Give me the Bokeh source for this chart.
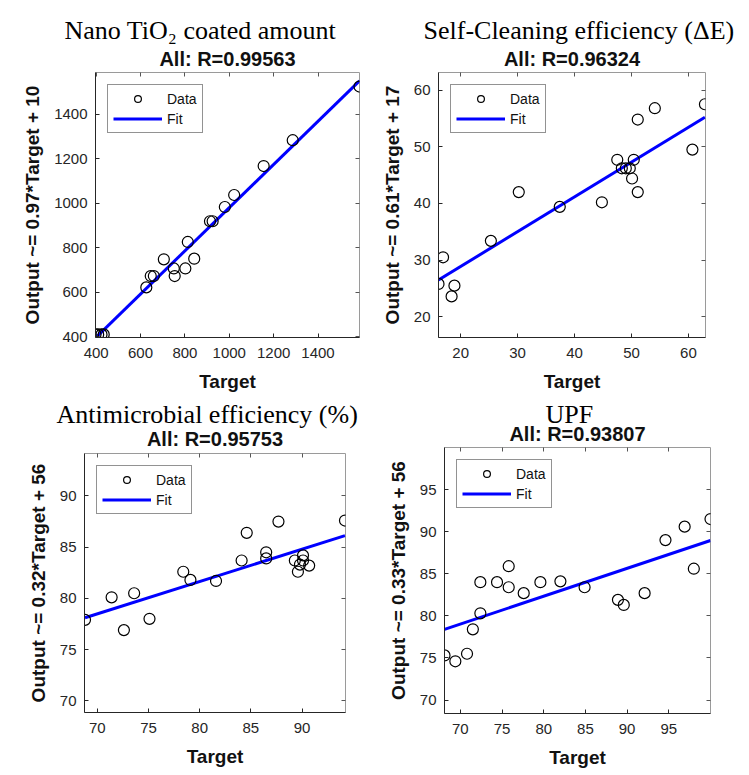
from bokeh.plotting import figure
from bokeh.models import Range1d, FixedTicker, LinearAxis, Title, Legend, LegendItem
from bokeh.layouts import column, row
from bokeh.embed import file_html
from bokeh.resources import INLINE

SANS = "Liberation Sans"
SERIF = "Liberation Serif"
DARK = "#262626"

# ---------------- data ----------------
tio2_title = "Nano TiO\u2082 coated amount"
tio2_r = "All: R=0.99563"
tio2_ylabel = "Output ~= 0.97*Target + 10"
tio2_target = [397, 409, 424, 434, 626, 646, 660, 705, 750, 754, 802, 813, 842, 913, 925, 980, 1022, 1155, 1286, 1587]
tio2_output = [411, 411, 411, 411, 622, 673, 673, 748, 707, 673, 707, 826, 751, 919, 919, 983, 1037, 1167, 1283, 1524]
tio2_slope, tio2_intercept = 0.97, 10
tio2_xlim = (397, 1587)
tio2_ylim = (397, 1587)
tio2_ticks = [400, 600, 800, 1000, 1200, 1400]

self_title = "Self-Cleaning efficiency (\u0394E)"
self_r = "All: R=0.96324"
self_ylabel = "Output ~= 0.61*Target + 17"
self_target = [16.1, 16.9, 18.4, 18.9, 25.3, 30.2, 37.4, 44.8, 47.5, 48.3, 49.0, 49.7, 50.1, 50.4, 51.1, 51.1, 54.1, 60.7, 62.9]
self_output = [25.8, 30.5, 23.6, 25.5, 33.4, 42.0, 39.4, 40.2, 47.7, 46.2, 46.2, 46.2, 44.4, 47.7, 54.8, 42.0, 56.8, 49.5, 57.5]
self_slope, self_intercept = 0.614, 16.6
self_xlim = (16.1, 63.0)
self_ylim = (16.35, 63.1)
self_ticks = [20, 30, 40, 50, 60]

anti_title = "Antimicrobial efficiency (%)"
anti_r = "All: R=0.95753"
anti_ylabel = "Output ~= 0.32*Target + 56"
anti_target = [68.8, 71.4, 72.6, 73.6, 75.1, 78.4, 79.1, 81.6, 84.1, 84.6, 86.5, 86.5, 87.7, 89.3, 89.6, 89.8, 90.1, 90.1, 90.7, 94.2]
anti_output = [77.9, 80.1, 76.9, 80.5, 78.0, 82.6, 81.8, 81.7, 83.7, 86.4, 84.5, 83.9, 87.5, 83.7, 82.6, 83.3, 84.2, 83.7, 83.2, 87.6]
anti_slope, anti_intercept = 0.316, 56.36
anti_xlim = (68.75, 94.25)
anti_ylim = (68.85, 94.15)
anti_ticks = [70, 75, 80, 85, 90]

upf_title = "UPF"
upf_r = "All: R=0.93807"
upf_ylabel = "Output ~= 0.33*Target + 56"
upf_target = [68.1, 69.4, 70.8, 71.5, 72.4, 72.4, 74.4, 75.8, 75.8, 77.6, 79.6, 82.0, 84.9, 88.9, 89.6, 92.1, 94.6, 96.9, 98.0, 100.0]
upf_output = [75.3, 74.6, 75.5, 78.4, 80.3, 84.0, 84.0, 85.9, 83.4, 82.7, 84.0, 84.1, 83.4, 81.9, 81.3, 82.7, 89.0, 90.6, 85.6, 91.5]
upf_slope, upf_intercept = 0.331, 55.85
upf_xlim = (68.1, 100.0)
upf_ylim = (68.4, 100.0)
upf_ticks = [70, 75, 80, 85, 90, 95]


def make_panel(main_title, sub_title, y_label, target, output, slope, intercept,
               xlim, ylim, ticks, width, height, borders, title_offset, standoffs):
    left, right, top, bottom = borders
    sub_standoff, main_standoff = standoffs
    p = figure(width=width, height=height,
               x_range=Range1d(*xlim), y_range=Range1d(*ylim),
               output_backend="svg", toolbar_location=None, tools="", title=None,
               min_border_left=left, min_border_right=right,
               min_border_top=top, min_border_bottom=bottom)
    p.frame_align = False
    p.background_fill_color = "white"
    p.border_fill_color = "white"
    p.outline_line_color = "#9a9a9a"
    p.outline_line_width = 1
    p.grid.visible = False

    for ax in (p.xaxis[0], p.yaxis[0]):
        ax.ticker = FixedTicker(ticks=ticks)
        ax.axis_line_color = DARK
        ax.major_tick_line_color = DARK
        ax.major_tick_in = 4
        ax.major_tick_out = 0
        ax.minor_tick_line_color = None
        ax.major_label_text_font = SANS
        ax.major_label_text_font_size = "15px"
        ax.major_label_text_color = DARK
        ax.axis_label_text_font = SANS
        ax.axis_label_text_font_size = "19px"
        ax.axis_label_text_font_style = "bold"
        ax.axis_label_text_color = "#111111"
    p.xaxis.axis_label = "Target"
    p.yaxis.axis_label = y_label
    p.xaxis.major_label_standoff = 10
    p.yaxis.major_label_standoff = 8
    p.xaxis.axis_label_standoff = 10
    p.yaxis.axis_label_standoff = 8

    def tick_axis():
        return LinearAxis(ticker=FixedTicker(ticks=ticks), axis_line_color=None,
                          major_tick_line_color="#555555", major_tick_in=4, major_tick_out=0,
                          minor_tick_line_color=None, major_label_text_color=None,
                          major_label_text_font_size="1px", major_label_standoff=0)

    xs = [min(target), max(target)]
    ys = [slope * v + intercept for v in xs]
    fit = p.line(xs, ys, line_color="#0000ff", line_width=3)
    dots = p.scatter(target, output, marker="circle", size=11, fill_color=None,
                     line_color="black", line_width=1.2)

    legend = Legend(items=[LegendItem(label="Data", renderers=[dots]),
                           LegendItem(label="Fit", renderers=[fit])],
                    location="top_left", margin=12, padding=5, spacing=3,
                    glyph_width=49, glyph_height=17, label_height=17, label_standoff=5,
                    label_text_font=SANS, label_text_font_size="14px", label_text_color="#111111",
                    border_line_color=DARK, border_line_width=1,
                    background_fill_color="white", background_fill_alpha=1)
    p.add_layout(legend)

    p.add_layout(tick_axis(), "above")
    p.add_layout(Title(text=sub_title, align="center", text_font=SANS, text_font_size="20px",
                       text_font_style="bold", text_color="#111111", standoff=sub_standoff), "above")
    p.add_layout(Title(text=main_title, align="left", offset=title_offset, text_font=SERIF,
                       text_font_size="26px", text_font_style="normal", text_color="black",
                       standoff=main_standoff), "above")
    p.add_layout(tick_axis(), "right")
    return p


p1 = make_panel(tio2_title, tio2_r, tio2_ylabel, tio2_target, tio2_output, tio2_slope, tio2_intercept,
                tio2_xlim, tio2_ylim, tio2_ticks, 367, 388, (87, 16, 64, 59), -31, (5.6, -4.4))
p2 = make_panel(self_title, self_r, self_ylabel, self_target, self_output, self_slope, self_intercept,
                self_xlim, self_ylim, self_ticks, 366, 388, (63, 36, 64, 59), -15, (5.6, -4.4))
p3 = make_panel(anti_title, anti_r, anti_ylabel, anti_target, anti_output, anti_slope, anti_intercept,
                anti_xlim, anti_ylim, anti_ticks, 367, 378, (76, 30, 57, 62), -28, (6.4, -10))
p4 = make_panel(upf_title, upf_r, upf_ylabel, upf_target, upf_output, upf_slope, upf_intercept,
                upf_xlim, upf_ylim, upf_ticks, 366, 378, (69, 31, 51, 61), 101, (4.4, -18))

layout = column(row(p1, p2), row(p3, p4), margin=(8, 0, 0, 8))

with open("out.html", "w") as f:
    f.write(file_html(layout, INLINE))
